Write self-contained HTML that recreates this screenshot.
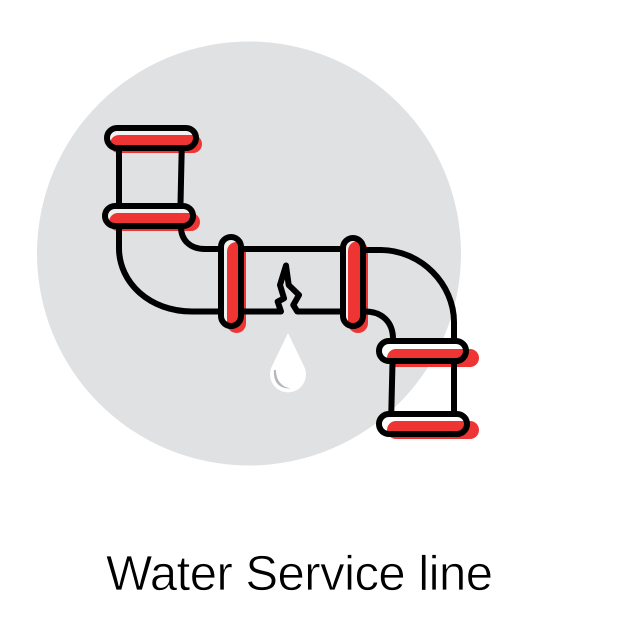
<!DOCTYPE html>
<html><head><meta charset="utf-8"><style>html,body{margin:0;padding:0;background:#fff}svg{display:block}</style></head>
<body><svg width="626" height="626" viewBox="0 0 626 626" xmlns="http://www.w3.org/2000/svg">
<rect width="626" height="626" fill="#fff"/>
<circle cx="249" cy="253.5" r="212" fill="#e0e1e3"/>
<!-- flange interiors -->
<g fill="#f1f1f2">
<rect x="107" y="128" width="89" height="20" rx="10"/>
<rect x="105" y="206" width="88" height="20" rx="10"/>
<rect x="221" y="237" width="20" height="89" rx="10"/>
<rect x="343" y="238" width="20" height="88" rx="10"/>
<rect x="379" y="341" width="87" height="20" rx="10" fill="#fff"/>
<rect x="379" y="414" width="88" height="20" rx="10" fill="#fff"/>
</g>
<!-- red shadows -->
<g fill="#ee3534">
<path d="M110 145a9 9 0 0 1 9-10h74a9 9 0 0 1 9 9a9 9 0 0 1-9 9H119a9 9 0 0 1-9-8z"/>
<rect x="109" y="213" width="91" height="18" rx="9"/>
<rect x="227" y="242" width="19" height="91" rx="9.500"/>
<rect x="348" y="241" width="20" height="92" rx="10"/>
<rect x="387" y="349" width="92" height="18" rx="9"/>
<rect x="387" y="421" width="92" height="18" rx="9"/>
</g>
<!-- pipes -->
<g fill="none" stroke="#000" stroke-width="6">
<path d="M119 150V204M181.700 150L180.500 204"/>
<path d="M119 227V248C119 283 150 311.500 192 311.500H220M181 227C181 240 190 249 205 249H220"/>
<path d="M243 249H341"/>
<path d="M243 311.500H281L277.700 301.700L284 298.300L280 285L286 265.500L288.700 285L299 295L293.300 305L297.300 311.500H341" stroke-linejoin="round"/>
<path d="M365 250H380C422 250 454 285 454 322V339M365 311.500C382 311.500 393 322 393 339"/>
<path d="M392.500 363L391.300 412M454 363V412"/>
</g>
<!-- flange outlines -->
<g fill="none" stroke="#000" stroke-width="6">
<rect x="107" y="128" width="89" height="20" rx="10"/>
<rect x="105" y="206" width="88" height="20" rx="10"/>
<rect x="221" y="237" width="20" height="89" rx="10"/>
<rect x="343" y="238" width="20" height="88" rx="10"/>
<rect x="379" y="341" width="87" height="20" rx="10"/>
<rect x="379" y="414" width="88" height="20" rx="10"/>
</g>
<!-- drop -->
<path d="M288 333L271.700 366.700A18 18 0 1 0 304.300 366.700Z" fill="#fff"/>
<path d="M274 370C273 382 279 389 291 388.500C282 387 276 381 276 370Z" fill="#b4b7bb"/>
<text x="106" y="590" font-family="'Liberation Sans',sans-serif" font-size="49" fill="#000" stroke="#fff" stroke-width="0.7" textLength="387" lengthAdjust="spacing">Water Service line</text>
</svg></body></html>
